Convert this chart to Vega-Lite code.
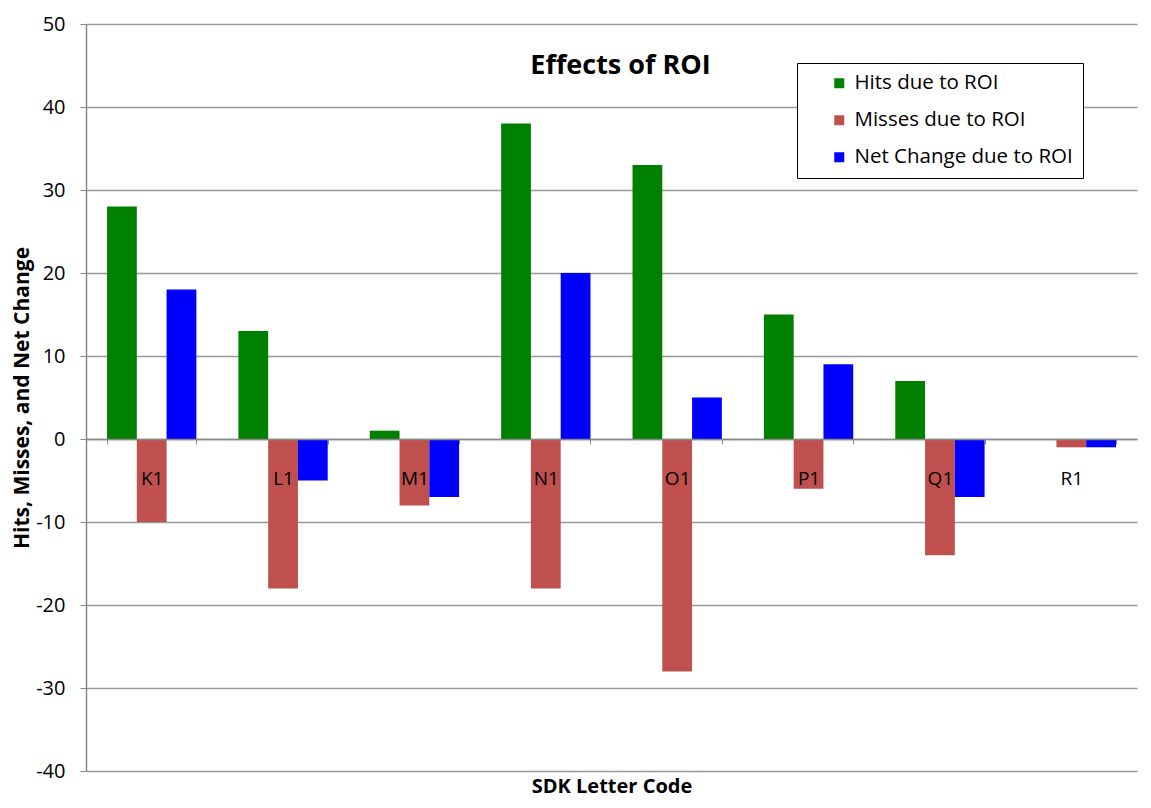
{
  "$schema": "https://vega.github.io/schema/vega-lite/v6.json",
  "width": 1051,
  "height": 747,
  "autosize": {"type": "none"},
  "padding": {"left": 86, "top": 24, "right": 14, "bottom": 37},
  "background": "white",
  "title": {
    "text": "Effects of ROI",
    "font": "Open Sans",
    "fontSize": 27,
    "fontWeight": "bold",
    "color": "#000000",
    "anchor": "middle",
    "dx": 9,
    "offset": -66
  },
  "data": {
    "values": [
      {"code": "K1", "series": "Hits due to ROI", "value": 28},
      {"code": "K1", "series": "Misses due to ROI", "value": -10},
      {"code": "K1", "series": "Net Change due to ROI", "value": 18},
      {"code": "L1", "series": "Hits due to ROI", "value": 13},
      {"code": "L1", "series": "Misses due to ROI", "value": -18},
      {"code": "L1", "series": "Net Change due to ROI", "value": -5},
      {"code": "M1", "series": "Hits due to ROI", "value": 1},
      {"code": "M1", "series": "Misses due to ROI", "value": -8},
      {"code": "M1", "series": "Net Change due to ROI", "value": -7},
      {"code": "N1", "series": "Hits due to ROI", "value": 38},
      {"code": "N1", "series": "Misses due to ROI", "value": -18},
      {"code": "N1", "series": "Net Change due to ROI", "value": 20},
      {"code": "O1", "series": "Hits due to ROI", "value": 33},
      {"code": "O1", "series": "Misses due to ROI", "value": -28},
      {"code": "O1", "series": "Net Change due to ROI", "value": 5},
      {"code": "P1", "series": "Hits due to ROI", "value": 15},
      {"code": "P1", "series": "Misses due to ROI", "value": -6},
      {"code": "P1", "series": "Net Change due to ROI", "value": 9},
      {"code": "Q1", "series": "Hits due to ROI", "value": 7},
      {"code": "Q1", "series": "Misses due to ROI", "value": -14},
      {"code": "Q1", "series": "Net Change due to ROI", "value": -7},
      {"code": "R1", "series": "Hits due to ROI", "value": 0},
      {"code": "R1", "series": "Misses due to ROI", "value": -1},
      {"code": "R1", "series": "Net Change due to ROI", "value": -1}
    ]
  },
  "mark": {"type": "bar"},
  "encoding": {
    "x": {
      "field": "code",
      "type": "nominal",
      "sort": null,
      "scale": {"paddingInner": 0.32, "paddingOuter": 0.16},
      "axis": {
        "title": "SDK Letter Code",
        "titleFont": "Open Sans",
        "titleFontSize": 20,
        "titleFontWeight": "bold",
        "titleColor": "#000000",
        "titlePadding": 288,
        "offset": -332,
        "labelAngle": 0,
        "labelFont": "Open Sans",
        "labelFontSize": 19,
        "labelColor": "#000000",
        "labelPadding": 25,
        "labelBaseline": "top",
        "tickBand": "extent",
        "tickSize": 5,
        "tickColor": "#888888",
        "domainColor": "#888888",
        "domainWidth": 1.5,
        "grid": false,
        "zindex": 1
      }
    },
    "xOffset": {"field": "series", "type": "nominal", "sort": null, "scale": {"paddingInner": 0, "paddingOuter": 0}},
    "y": {
      "field": "value",
      "type": "quantitative",
      "scale": {"domain": [-40, 50], "nice": false},
      "axis": {
        "title": "Hits, Misses, and Net Change",
        "titleFont": "Open Sans",
        "titleFontSize": 21,
        "titleFontWeight": "bold",
        "titleColor": "#000000",
        "titlePadding": 3,
        "values": [-40, -30, -20, -10, 0, 10, 20, 30, 40, 50],
        "labelExpr": "toString(datum.value)",
        "labelFont": "Open Sans",
        "labelFontSize": 20,
        "labelColor": "#000000",
        "labelPadding": 15,
        "tickSize": 6,
        "tickColor": "#888888",
        "domainColor": "#888888",
        "domainWidth": 1.5,
        "grid": true,
        "gridColor": "#999999",
        "gridWidth": 1.5
      }
    },
    "color": {
      "field": "series",
      "type": "nominal",
      "sort": null,
      "scale": {
        "domain": ["Hits due to ROI", "Misses due to ROI", "Net Change due to ROI"],
        "range": ["#008000", "#c0504d", "#0000ff"]
      },
      "legend": {
        "title": null,
        "orient": "none",
        "legendX": 711,
        "legendY": 39,
        "symbolType": "square",
        "symbolSize": 100,
        "symbolStrokeWidth": 0,
        "symbolOffset": 22,
        "labelFont": "Open Sans",
        "labelFontSize": 20.5,
        "labelColor": "#000000",
        "labelOffset": 5,
        "rowPadding": 16,
        "padding": 10,
        "strokeColor": "#000000",
        "fillColor": "#ffffff",
        "labelLimit": 300
      }
    }
  },
  "config": {
    "view": {"stroke": null},
    "legend": {"cornerRadius": 0}
  }
}
